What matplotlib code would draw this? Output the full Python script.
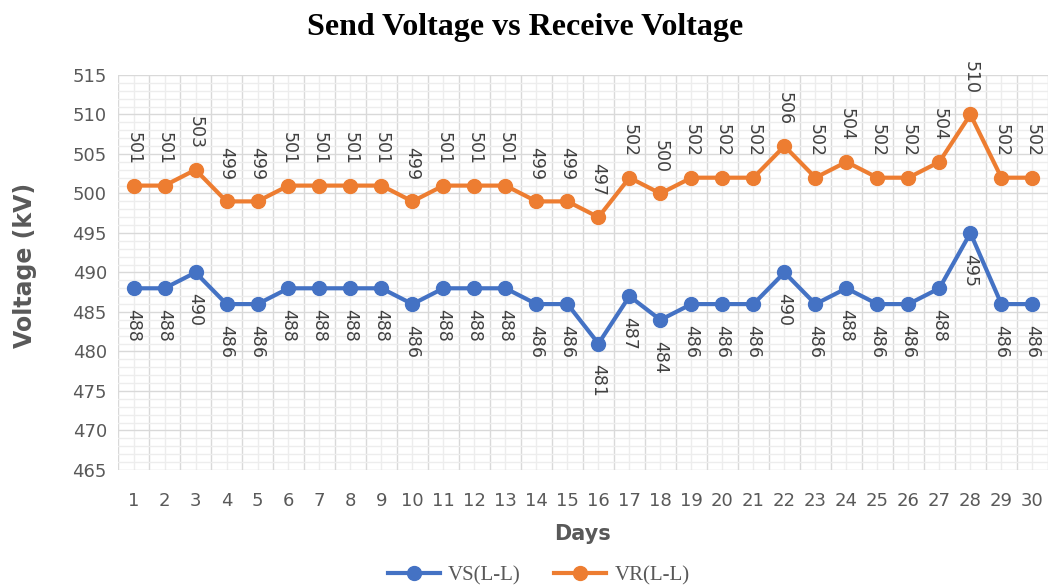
import numpy as np
import matplotlib
matplotlib.use("Agg")
import matplotlib.pyplot as plt
from matplotlib.ticker import MultipleLocator

days = list(range(1, 31))
vs = [488, 488, 490, 486, 486, 488, 488, 488, 488, 486, 488, 488, 488, 486, 486,
      481, 487, 484, 486, 486, 486, 490, 486, 488, 486, 486, 488, 495, 486, 486]
vr = [501, 501, 503, 499, 499, 501, 501, 501, 501, 499, 501, 501, 501, 499, 499,
      497, 502, 500, 502, 502, 502, 506, 502, 504, 502, 502, 504, 510, 502, 502]

blue = "#4472C4"
orange = "#ED7D31"
gray = "#595959"

fig = plt.figure(figsize=(10.5, 5.85), dpi=100)
ax = fig.add_axes([0.1124, 0.1966, 0.8856, 0.6752])

ax.plot(days, vs, color=blue, lw=3, marker="o", ms=10, label="VS(L-L)", zorder=3)
ax.plot(days, vr, color=orange, lw=3, marker="o", ms=10, label="VR(L-L)", zorder=3)

for d, v in zip(days, vs):
    ax.annotate(str(v), (d, v), xytext=(0, -15), textcoords="offset points",
                rotation=-90, ha="center", va="top", fontsize=12.5, color="#404040")
for d, v in zip(days, vr):
    ax.annotate(str(v), (d, v), xytext=(0, 15), textcoords="offset points",
                rotation=-90, ha="center", va="bottom", fontsize=12.5, color="#404040",
                annotation_clip=False)

ax.set_xlim(0.5, 30.5)
ax.set_ylim(465, 515)
ax.set_xticks(days)
ax.xaxis.set_minor_locator(MultipleLocator(1, offset=0.5))
ax.yaxis.set_major_locator(MultipleLocator(5))
ax.yaxis.set_minor_locator(MultipleLocator(1))

ax.grid(which="major", axis="y", color="#d9d9d9", lw=1)
ax.grid(which="minor", axis="y", color="#ededed", lw=1)
ax.grid(which="minor", axis="x", color="#d9d9d9", lw=1)
ax.grid(which="major", axis="x", color="#ededed", lw=1)
ax.set_axisbelow(True)

for s in ax.spines.values():
    s.set_visible(False)
ax.tick_params(which="both", length=0, labelsize=13, colors=gray)
ax.tick_params(axis="x", pad=16)
ax.tick_params(axis="y", pad=8)

ax.set_xlabel("Days", fontsize=15, fontweight="bold", color=gray, labelpad=10)
ax.set_ylabel("Voltage (kV)", fontsize=17, fontweight="bold", color=gray)
ax.yaxis.set_label_coords(-0.087, 0.519)

fig.suptitle("Send Voltage vs Receive Voltage", family="Liberation Serif",
             fontweight="bold", fontsize=23, y=0.978)

ax.legend(loc="lower center", bbox_to_anchor=(0.513, -0.022), bbox_transform=fig.transFigure,
          ncol=2, frameon=False, prop={"family": "Liberation Serif", "size": 15},
          labelcolor=gray, handlelength=2.5, handletextpad=0.4, columnspacing=1.6,
          borderpad=0.1)

fig.savefig("out.png", dpi=100)
